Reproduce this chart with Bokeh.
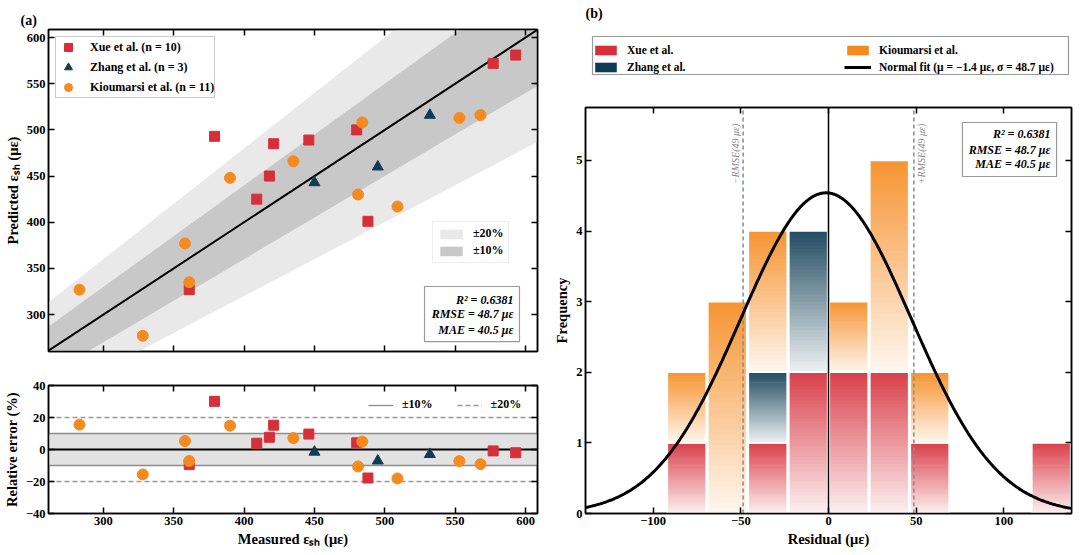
import numpy as np
from bokeh.plotting import figure
from bokeh.models import (Range1d, FixedTicker, LinearAxis, Legend, LegendItem, Label,
                          BoxAnnotation, ColumnDataSource, CustomJSTickFormatter)
from bokeh.layouts import row, column
from bokeh.embed import file_html
from bokeh.resources import INLINE

# ---------------- data ----------------
xue_measured    = [361, 379, 409, 418, 421, 446, 480, 488, 577, 593]
xue_predicted   = [327, 493, 425, 450, 485, 489, 500, 401, 572, 581]
zhang_measured  = [450, 495, 532]
zhang_predicted = [443, 460, 516]
kio_measured    = [283, 328, 358, 361, 390, 435, 481, 484, 509, 553, 568]
kio_predicted   = [327, 277, 377, 335, 448, 466, 430, 508, 417, 513, 516]

bin_edges    = [-138.6, -115.5, -92.4, -69.3, -46.2, -23.1, 0, 23.1, 46.2, 69.3, 92.4, 115.5, 138.6]
xue_counts   = [0, 0, 1, 0, 1, 2, 2, 2, 1, 0, 0, 1]
zhang_counts = [0, 0, 0, 0, 1, 2, 0, 0, 0, 0, 0, 0]
kio_counts   = [0, 0, 1, 3, 2, 0, 1, 3, 1, 0, 0, 0]

fit_mu = -1.4
fit_sigma = 48.7
rmse = 48.7
stats_lines = ["R² = 0.6381", "RMSE = 48.7 με", "MAE = 40.5 με"]
band_levels = [10, 20]          # percent bands
xticks_a = [300, 350, 400, 450, 500, 550, 600]
yticks_a = [300, 350, 400, 450, 500, 550, 600]
yticks_err = [-40, -20, 0, 20, 40]
xticks_b = [-100, -50, 0, 50, 100]
yticks_b = [0, 1, 2, 3, 4, 5]

# ---------------- style ----------------
SERIF = "Liberation Serif"
RED = "#d62f3a"
BLUE = "#0f3c55"
ORANGE = "#f58a1f"
XR = (261, 608.5)
YR = (260, 608.7)
XRB = (-138.6, 138.6)
YRB = (0, 5.75)


def base_style(p):
    p.background_fill_color = "white"
    p.border_fill_color = "white"
    p.outline_line_color = "black"
    p.outline_line_width = 1.5
    p.xgrid.visible = False
    p.ygrid.visible = False


def style_axis(ax, ticks, show_labels=True, label=None):
    ax.ticker = FixedTicker(ticks=ticks)
    ax.major_tick_in = 6
    ax.major_tick_out = 0
    ax.major_tick_line_width = 1.5
    ax.major_tick_line_color = "black"
    ax.minor_tick_line_color = None
    ax.axis_line_color = "black"
    ax.axis_line_width = 1.5
    ax.major_label_text_font = SERIF
    ax.major_label_text_font_style = "bold"
    ax.major_label_text_font_size = "12.5px"
    ax.major_label_text_color = "black"
    ax.major_label_standoff = 3
    if not show_labels:
        ax.formatter = CustomJSTickFormatter(code="return ''")
        ax.major_label_standoff = 0
    if label:
        ax.axis_label = label
        ax.axis_label_text_font = SERIF
        ax.axis_label_text_font_style = "bold"
        ax.axis_label_text_font_size = "14.5px"
        ax.axis_label_text_color = "black"
        ax.axis_label_standoff = 3


def add_mirror(p, xticks, yticks):
    top = LinearAxis()
    right = LinearAxis()
    style_axis(top, xticks, show_labels=False)
    style_axis(right, yticks, show_labels=False)
    p.add_layout(top, "above")
    p.add_layout(right, "right")


def style_legend(leg, border="#9a9a9a", size="12px"):
    leg.label_text_font = SERIF
    leg.label_text_font_style = "bold"
    leg.label_text_font_size = size
    leg.label_text_color = "black"
    leg.border_line_color = border
    leg.border_line_width = 1
    leg.background_fill_color = "white"
    leg.background_fill_alpha = 1


def add_stats(p, left, right, top, bottom, tx, ys):
    p.add_layout(BoxAnnotation(left=left, right=right, top=top, bottom=bottom,
                               fill_color="white", fill_alpha=1,
                               line_color="#9a9a9a", line_alpha=1, line_width=1.2))
    for txt, yy in zip(stats_lines, ys):
        p.add_layout(Label(x=tx, y=yy, text=txt, text_align="right", text_baseline="middle",
                           text_font=SERIF, text_font_style="bold italic",
                           text_font_size="12px", text_color="black"))


def blend(hex_color, t):
    h = hex_color.lstrip("#")
    rgb = [int(h[i:i + 2], 16) for i in (0, 2, 4)]
    return "#%02x%02x%02x" % tuple(int(round(c + (255 - c) * t)) for c in rgb)


# ---------------- panel (a) top ----------------
fa1 = figure(frame_width=489, frame_height=322, x_range=Range1d(*XR), y_range=Range1d(*YR),
             min_border_left=48, min_border_right=12, min_border_top=29, min_border_bottom=17,
             title="(a)", output_backend="svg", toolbar_location=None)
base_style(fa1)
fa1.title.text_font = SERIF
fa1.title.text_font_style = "bold"
fa1.title.text_font_size = "14px"
fa1.title.text_color = "black"
fa1.title.align = "left"
fa1.title.offset = -28
fa1.title.standoff = 4
style_axis(fa1.below[0], xticks_a, show_labels=False)
style_axis(fa1.left[0], yticks_a, label="Predicted εₛₕ (με)")
add_mirror(fa1, xticks_a, yticks_a)

bx = list(XR)
lo20, hi20 = 1 - band_levels[1] / 100, 1 + band_levels[1] / 100
lo10, hi10 = 1 - band_levels[0] / 100, 1 + band_levels[0] / 100
r_b20 = fa1.varea(x=bx, y1=[v * lo20 for v in bx], y2=[v * hi20 for v in bx], fill_color="#e9e9e9")
r_b10 = fa1.varea(x=bx, y1=[v * lo10 for v in bx], y2=[v * hi10 for v in bx], fill_color="#c8c8c8")
fa1.line(bx, bx, line_color="black", line_width=2)

r_xue = fa1.scatter(xue_measured, xue_predicted, marker="square", size=10, color=RED)
r_zh = fa1.scatter(zhang_measured, zhang_predicted, marker="triangle", size=11, color=BLUE)
r_kio = fa1.scatter(kio_measured, kio_predicted, marker="circle", size=11, color=ORANGE)

leg_a = Legend(items=[LegendItem(label="Xue et al. (n = %d)" % len(xue_measured), renderers=[r_xue]),
                      LegendItem(label="Zhang et al. (n = %d)" % len(zhang_measured), renderers=[r_zh]),
                      LegendItem(label="Kioumarsi et al. (n = %d)" % len(kio_measured), renderers=[r_kio])],
               location="top_left", margin=7, padding=0, spacing=0,
               glyph_width=24, glyph_height=20, label_height=16, label_standoff=10)
style_legend(leg_a)
fa1.add_layout(leg_a, "center")

leg_band = Legend(items=[LegendItem(label="±20%", renderers=[r_b20]),
                         LegendItem(label="±10%", renderers=[r_b10])],
                  location=(384, 88), padding=4, spacing=2, glyph_width=28, glyph_height=12,
                  label_height=14, label_standoff=8)
style_legend(leg_band, border="#dddddd")
fa1.add_layout(leg_band, "center")

add_stats(fa1, 528.2, 595.7, 330.4, 270.8, 591.4, [316.3, 300.1, 283.8])

# ---------------- panel (a) bottom ----------------
fa2 = figure(frame_width=489, frame_height=128, x_range=fa1.x_range, y_range=Range1d(-40, 40),
             min_border_left=48, min_border_right=12, min_border_top=17, min_border_bottom=34,
             output_backend="svg", toolbar_location=None)
base_style(fa2)
style_axis(fa2.below[0], xticks_a, label="Measured εₛₕ (με)")
style_axis(fa2.left[0], yticks_err, label="Relative error (%)")
add_mirror(fa2, xticks_a, yticks_err)

b10, b20 = band_levels
fa2.varea(x=bx, y1=[-b10, -b10], y2=[b10, b10], fill_color="#e2e2e2")
r_l10 = fa2.multi_line(xs=[bx, bx], ys=[[b10, b10], [-b10, -b10]], line_color="#8c8c8c", line_width=1.3)
r_l20 = fa2.multi_line(xs=[bx, bx], ys=[[b20, b20], [-b20, -b20]], line_color="#9a9a9a",
                       line_width=1.3, line_dash="5 3")
fa2.line(bx, [0, 0], line_color="black", line_width=2)


def rel(m, p):
    return [(pp - mm) / mm * 100 for mm, pp in zip(m, p)]


fa2.scatter(xue_measured, rel(xue_measured, xue_predicted), marker="square", size=10, color=RED)
fa2.scatter(zhang_measured, rel(zhang_measured, zhang_predicted), marker="triangle", size=11, color=BLUE)
fa2.scatter(kio_measured, rel(kio_measured, kio_predicted), marker="circle", size=11, color=ORANGE)

leg_err = Legend(items=[LegendItem(label="±10%", renderers=[r_l10]),
                        LegendItem(label="±20%", renderers=[r_l20])],
                 location=(320, 101), orientation="horizontal", padding=4, spacing=24,
                 glyph_width=25, glyph_height=12, label_height=14, label_standoff=9)
style_legend(leg_err)
leg_err.border_line_color = None
leg_err.background_fill_alpha = 0
fa2.add_layout(leg_err, "center")

# ---------------- panel (b) header (title + legend), frame-aligned with panel (b) ----------------
HB_W, HB_H = 486, 97
hb = figure(frame_width=HB_W, frame_height=HB_H, x_range=Range1d(0, HB_W), y_range=Range1d(0, HB_H),
            x_axis_type=None, y_axis_type=None,
            min_border_left=36, min_border_right=2, min_border_top=0, min_border_bottom=0,
            output_backend="svg", toolbar_location=None)
hb.outline_line_color = None
hb.background_fill_color = "white"
hb.border_fill_color = "white"
# legend proxies, kept outside the visible header range
px0, px1 = [HB_W + 10], [HB_W + 20]
p_xue = hb.quad(left=px0, right=px1, bottom=[0], top=[1], fill_color=RED, line_color=None)
p_zh = hb.quad(left=px0, right=px1, bottom=[0], top=[1], fill_color=BLUE, line_color=None)
p_kio = hb.quad(left=px0, right=px1, bottom=[0], top=[1], fill_color=ORANGE, line_color=None)
p_fit = hb.line(x=px0 + px1, y=[0, 0], line_color="black", line_width=3)

hb.add_layout(BoxAnnotation(left=7, right=483, bottom=23, top=61, fill_color="white", fill_alpha=1,
                            line_color="#9a9a9a", line_alpha=1, line_width=1.2))
leg_kw = dict(orientation="vertical", padding=4, spacing=3, glyph_width=27, glyph_height=12,
              label_height=14, label_standoff=8)
leg_b1 = Legend(items=[LegendItem(label="Xue et al.", renderers=[p_xue]),
                       LegendItem(label="Zhang et al.", renderers=[p_zh])],
                location=(7, 23), **leg_kw)
leg_b2 = Legend(items=[LegendItem(label="Kioumarsi et al.", renderers=[p_kio]),
                       LegendItem(label="Normal fit (μ = −1.4 με, σ = 48.7 με)", renderers=[p_fit])],
                location=(259, 23), **leg_kw)
for lg in (leg_b1, leg_b2):
    style_legend(lg, size="11.5px")
    lg.border_line_color = None
    lg.background_fill_alpha = 0
    hb.add_layout(lg, "center")
hb.add_layout(Label(x=0, y=84, text="(b)", text_align="left", text_baseline="middle",
                    text_font=SERIF, text_font_style="bold", text_font_size="14px",
                    text_color="black"))

# ---------------- panel (b) ----------------
fb = figure(frame_width=486, frame_height=406, x_range=Range1d(*XRB), y_range=Range1d(*YRB),
            min_border_left=36, min_border_right=2, min_border_top=10, min_border_bottom=34,
            output_backend="svg", toolbar_location=None)
base_style(fb)
style_axis(fb.below[0], xticks_b, label="Residual (με)")
style_axis(fb.left[0], yticks_b, label="Frequency")
add_mirror(fb, xticks_b, yticks_b)

bars = dict(left=[], right=[], bottom=[], top=[], color=[])
segs = dict(left=[], right=[], bottom=[], top=[])
N_SL = 40
groups = [(xue_counts, RED), (zhang_counts, BLUE), (kio_counts, ORANGE)]
for i in range(len(bin_edges) - 1):
    l = bin_edges[i] + 0.5
    r = bin_edges[i + 1] - 0.5
    base = 0
    for counts, col in groups:
        c = counts[i]
        if c == 0:
            continue
        top = base + c
        for k in range(N_SL):
            y0 = base + c * k / N_SL
            y1 = min(top, base + c * (k + 1.4) / N_SL)
            s = (k + 0.5) / N_SL
            t = 0.93 - 0.85 * s
            bars["left"].append(l)
            bars["right"].append(r)
            bars["bottom"].append(y0)
            bars["top"].append(y1)
            bars["color"].append(blend(col, t))
        segs["left"].append(l)
        segs["right"].append(r)
        segs["bottom"].append(base)
        segs["top"].append(top)
        base = top

fb.quad(left="left", right="right", bottom="bottom", top="top", fill_color="color",
        line_color=None, source=ColumnDataSource(bars))
fb.quad(left="left", right="right", bottom="bottom", top="top", fill_color=None,
        line_color="white", line_width=1.5, source=ColumnDataSource(segs))

fb.segment(x0=[-rmse, rmse], x1=[-rmse, rmse], y0=[YRB[0]] * 2, y1=[YRB[1]] * 2,
           line_color="#8a8a8a", line_width=1.5, line_dash="4 3")
fb.segment(x0=[0], x1=[0], y0=[YRB[0]], y1=[YRB[1]], line_color="black", line_width=1.5)

n_total = sum(xue_counts) + sum(zhang_counts) + sum(kio_counts)
bw = bin_edges[1] - bin_edges[0]
xs = np.linspace(XRB[0], XRB[1], 400)
ys = n_total * bw / (fit_sigma * np.sqrt(2 * np.pi)) * np.exp(-0.5 * ((xs - fit_mu) / fit_sigma) ** 2)
fb.line(xs, ys, line_color="black", line_width=3)

fb.add_layout(Label(x=-rmse - 1.2, y=5.52, text="−RMSE(%d με)" % round(rmse), angle=np.pi / 2,
                    text_align="right", text_baseline="bottom", text_font=SERIF,
                    text_font_style="italic", text_font_size="10px", text_color="#8a8a8a"))
fb.add_layout(Label(x=rmse + 1.2, y=5.52, text="+RMSE(%d με)" % round(rmse), angle=np.pi / 2,
                    text_align="right", text_baseline="top", text_font=SERIF,
                    text_font_style="italic", text_font_size="10px", text_color="#8a8a8a"))

add_stats(fb, 76.4, 130.1, 5.5376, 4.773, 126.6, [5.368, 5.155, 4.943])

layout = row(column(fa1, fa2, spacing=0), column(hb, fb, spacing=0), spacing=0)
open("out.html", "w", encoding="utf-8").write(file_html(layout, INLINE))
